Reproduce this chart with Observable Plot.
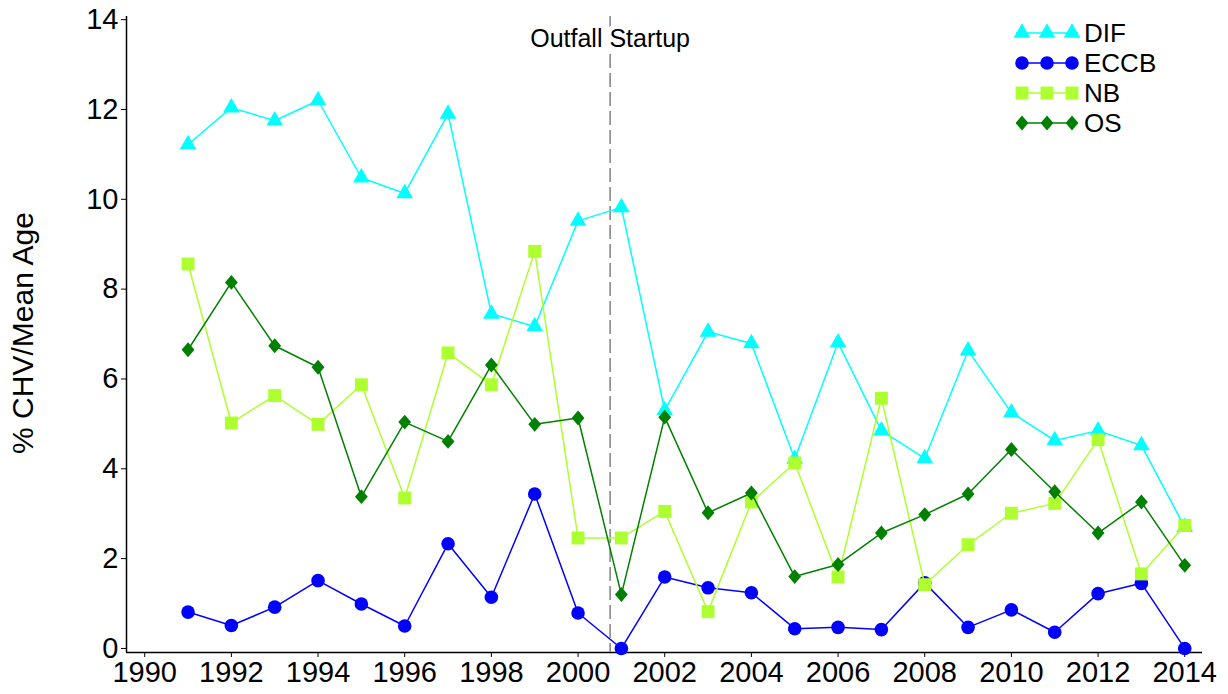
<!DOCTYPE html>
<html>
<head>
<meta charset="utf-8">
<script src="https://cdn.jsdelivr.net/npm/d3@7"></script>
<script src="https://cdn.jsdelivr.net/npm/@observablehq/plot@0.6"></script>
<style>
  body { margin: 0; background: #fff; }
  #chart { position: relative; width: 1228px; height: 694px; }
  #chart g[aria-label$="tick label"] text { font-size: 29px; }
</style>
</head>
<body>
<div id="chart"></div>
<script>
// Annual % CHV / mean age by station, 1991–2014
const years = [1991, 1992, 1993, 1994, 1995, 1996, 1997, 1998, 1999, 2000, 2001, 2002,
               2003, 2004, 2005, 2006, 2007, 2008, 2009, 2010, 2011, 2012, 2013, 2014];
const dif  = [11.22, 12.04, 11.75, 12.20, 10.48, 10.13, 11.90, 7.45, 7.17, 9.52, 9.82, 5.30,
              7.05, 6.79, 4.22, 6.81, 4.85, 4.23, 6.63, 5.25, 4.63, 4.85, 4.52, 2.70];
const eccb = [0.81, 0.51, 0.92, 1.51, 0.99, 0.50, 2.33, 1.14, 3.44, 0.79, 0.00, 1.59,
              1.35, 1.24, 0.44, 0.47, 0.42, 1.46, 0.47, 0.86, 0.36, 1.22, 1.45, 0.00];
const nb   = [8.56, 5.02, 5.63, 4.99, 5.87, 3.35, 6.58, 5.87, 8.84, 2.46, 2.46, 3.05,
              0.82, 3.26, 4.13, 1.59, 5.57, 1.42, 2.31, 3.01, 3.23, 4.65, 1.66, 2.74];
const os   = [6.65, 8.15, 6.74, 6.26, 3.38, 5.04, 4.61, 6.31, 4.99, 5.13, 1.20, 5.15,
              3.02, 3.46, 1.60, 1.87, 2.57, 2.98, 3.44, 4.43, 3.49, 2.57, 3.26, 1.85];

const seriesNames  = ["DIF", "ECCB", "NB", "OS"];
const seriesValues = [dif, eccb, nb, os];
const seriesColors = ["#00FFFF", "#0000FF", "#ADFF2F", "#008000"];

const xTicks = [1990, 1992, 1994, 1996, 1998, 2000, 2002, 2004, 2006, 2008, 2010, 2012, 2014];
const yTicks = [0, 2, 4, 6, 8, 10, 12, 14];
const xDomain = [1989.58, 2014.41];
const yDomain = [-0.09, 14.07];

const outfallStartup = 2000.74;
const outfallLabel = "Outfall Startup";
const yLabel = "% CHV/Mean Age";

const fontFamily = '"Liberation Sans", Arial, Helvetica, sans-serif';

// Slightly tall diamond marker
const diamondTall = {
  draw(ctx, size) {
    const h = Math.sqrt(size) * 0.6;
    const w = h * 0.86;
    ctx.moveTo(0, -h); ctx.lineTo(w, 0); ctx.lineTo(0, h); ctx.lineTo(-w, 0); ctx.closePath();
  }
};
const seriesSymbols = [d3.symbolTriangle, d3.symbolCircle, d3.symbolSquare, diamondTall];
const seriesRadii = [6.2, 6.8, 7.3, 7];

const marks = [
  // axes
  Plot.axisX({ticks: xTicks, tickFormat: d => String(d), tickSize: 5, tickPadding: 4,
              fontSize: 29, label: null, stroke: "black"}),
  Plot.axisY({ticks: yTicks, tickFormat: d => String(d), tickSize: 5, tickPadding: 3,
              fontSize: 29, label: null, stroke: "black"}),
  Plot.ruleX([xDomain[0]], {stroke: "black", strokeWidth: 1.5}),
  Plot.ruleY([yDomain[0]], {stroke: "black", strokeWidth: 1.5}),
  // outfall startup marker
  Plot.ruleX([outfallStartup], {stroke: "#808080", strokeWidth: 1.5, strokeDasharray: "14,5"}),
  Plot.text([{x: outfallStartup, label: outfallLabel}], {
    x: "x", text: "label", frameAnchor: "top", lineAnchor: "middle", dy: 22,
    fontSize: 25, fill: "black", stroke: "white", strokeWidth: 10
  })
];

seriesNames.forEach((name, s) => {
  const rows = years.map((yr, i) => ({year: yr, value: seriesValues[s][i], series: name}));
  marks.push(Plot.line(rows, {x: "year", y: "value", stroke: seriesColors[s], strokeWidth: 1.5}));
  marks.push(Plot.dot(rows, {
    x: "year", y: "value", symbol: seriesSymbols[s], r: seriesRadii[s],
    fill: seriesColors[s], stroke: "none"
  }));
});

const chart = Plot.plot({
  width: 1228,
  height: 694,
  marginLeft: 126,
  marginRight: 26,
  marginTop: 16,
  marginBottom: 42,
  style: {fontSize: "29px", fontFamily, color: "black", background: "white", overflow: "visible"},
  x: {domain: xDomain},
  y: {domain: yDomain},
  marks
});

const svg = d3.select(chart);

// tick labels at the full axis size
svg.selectAll('g[aria-label$="tick label"]').attr("font-size", 29)
  .selectAll("text").style("font-size", "29px");

// y-axis title
svg.append("text")
  .attr("transform", "translate(22,333) rotate(-90)")
  .attr("text-anchor", "middle")
  .attr("dominant-baseline", "central")
  .attr("font-family", fontFamily)
  .attr("font-size", 30)
  .attr("fill", "black")
  .text(yLabel);

// legend, top right inside the plot frame
const legend = svg.append("g").attr("font-family", fontFamily).attr("font-size", 26)
  .attr("text-anchor", "start");
seriesNames.forEach((name, s) => {
  const g = legend.append("g").attr("transform", `translate(0,${33 + s * 30})`);
  g.append("line").attr("x1", 1016).attr("x2", 1078).attr("y1", 0).attr("y2", 0)
    .attr("stroke", seriesColors[s]).attr("stroke-width", 1.5);
  const r = seriesRadii[s];
  [1022, 1047, 1072].forEach(cx => {
    g.append("path")
      .attr("transform", `translate(${cx},0)`)
      .attr("d", d3.symbol().type(seriesSymbols[s]).size(Math.PI * r * r)())
      .attr("fill", seriesColors[s]);
  });
  g.append("text").attr("x", 1084).attr("y", 0).attr("dominant-baseline", "central")
    .attr("text-anchor", "start").attr("fill", "black").text(name);
});

document.getElementById("chart").appendChild(chart);
</script>
</body>
</html>
